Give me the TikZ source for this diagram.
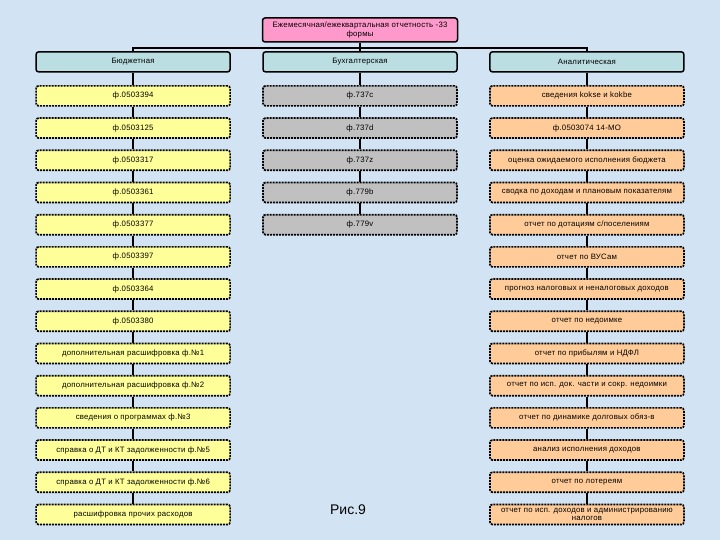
\documentclass[tikz,border=0pt]{standalone}
\usepackage{fontspec}
\setmainfont{Liberation Sans}
\newfontfamily\boxfont[LetterSpace=3]{Liberation Sans}
\usetikzlibrary{positioning}
\definecolor{bgblue}{HTML}{D2E4F4}
\definecolor{toppink}{HTML}{FF99CC}
\definecolor{headcyan}{HTML}{BADEE1}
\definecolor{lyellow}{HTML}{FFFF99}
\definecolor{mgray}{HTML}{C0C0C0}
\definecolor{rorange}{HTML}{FFCC99}
\begin{document}
\begin{tikzpicture}[x=1pt,y=1pt,
   node distance=10.5pt,
   box/.style={draw, line width=1.5pt, rounded corners=2.5pt,
      minimum width=194pt, minimum height=20pt, inner sep=1pt,
      align=center, font=\boxfont\fontsize{7.8}{8.6}\selectfont},
   headbox/.style={box, fill=headcyan},
   formbox/.style={box, line width=1.7pt, dash pattern=on 2pt off 1pt},
   link/.style={line width=2.4pt}]

\fill[bgblue] (0,0) rectangle (720,540);
\useasboundingbox (0,0) rectangle (720,540);

\node[box, fill=toppink, minimum width=195pt, minimum height=24pt] (top) at (360,510)
   {Ежемесячная/ежеквартальная отчетность -33\\формы};
\node[headbox, below=8.4pt of top] (buh) {Бухгалтерская};
\node[headbox, left=31.4pt of buh] (budg) {Бюджетная};
\node[headbox, right=31.4pt of buh] (anal) {Аналитическая};

\coordinate (b0) at ([yshift=-1.9pt]budg.south);
\coordinate (u0) at ([yshift=-1.9pt]buh.south);
\coordinate (a0) at ([yshift=-1.9pt]anal.south);

\foreach \t [count=\i, evaluate=\i as \p using int(\i-1)] in
   {ф.0503394, ф.0503125, ф.0503317, ф.0503361, ф.0503377, ф.0503397,
    ф.0503364, ф.0503380, дополнительная расшифровка ф.№1,
    дополнительная расшифровка ф.№2, сведения о программах ф.№3,
    справка о ДТ и КТ задолженности ф.№5, справка о ДТ и КТ задолженности ф.№6,
    расшифровка прочих расходов}
   \node[formbox, fill=lyellow, below=of b\p] (b\i) {\t};

\foreach \t [count=\i, evaluate=\i as \p using int(\i-1)] in
   {ф.737c, ф.737d, ф.737z, ф.779b, ф.779v}
   \node[formbox, fill=mgray, below=of u\p] (u\i) {\t};

\foreach \t [count=\i, evaluate=\i as \p using int(\i-1)] in
   {сведения kokse и kokbe, ф.0503074  14-МО,
    оценка ожидаемого исполнения бюджета,
    сводка по доходам и плановым показателям,
    отчет по дотациям с/поселениям, отчет по ВУСам,
    прогноз налоговых и неналоговых доходов, отчет по недоимке,
    отчет по прибылям и НДФЛ, отчет по исп. док. части и сокр. недоимки,
    отчет по динамике долговых обяз-в, анализ исполнения доходов,
    отчет по лотереям, {отчет по исп. доходов и администрированию\\налогов}}
   \node[formbox, fill=rorange, below=of a\p] (a\i) {\t};

\draw[line width=2pt] (top.south) -- ++(0,-5) coordinate (fork);
\draw[line width=2pt] (fork) -| (budg.north);
\draw[line width=2pt] (fork) -| (anal.north);
\draw[line width=2pt] (fork) -- (buh.north);

\draw[link] (budg) -- (b1);
\draw[link] (buh) -- (u1);
\draw[link] (anal) -- (a1);
\foreach \i [evaluate=\i as \p using int(\i-1)] in {2,...,14} {
   \draw[link] (b\p) -- (b\i);
   \draw[link] (a\p) -- (a\i);
}
\foreach \i [evaluate=\i as \p using int(\i-1)] in {2,...,5}
   \draw[link] (u\p) -- (u\i);

\node[font=\fontsize{14}{16}\selectfont] (fig) at (348,30) {Рис.9};

\end{tikzpicture}
\end{document}
